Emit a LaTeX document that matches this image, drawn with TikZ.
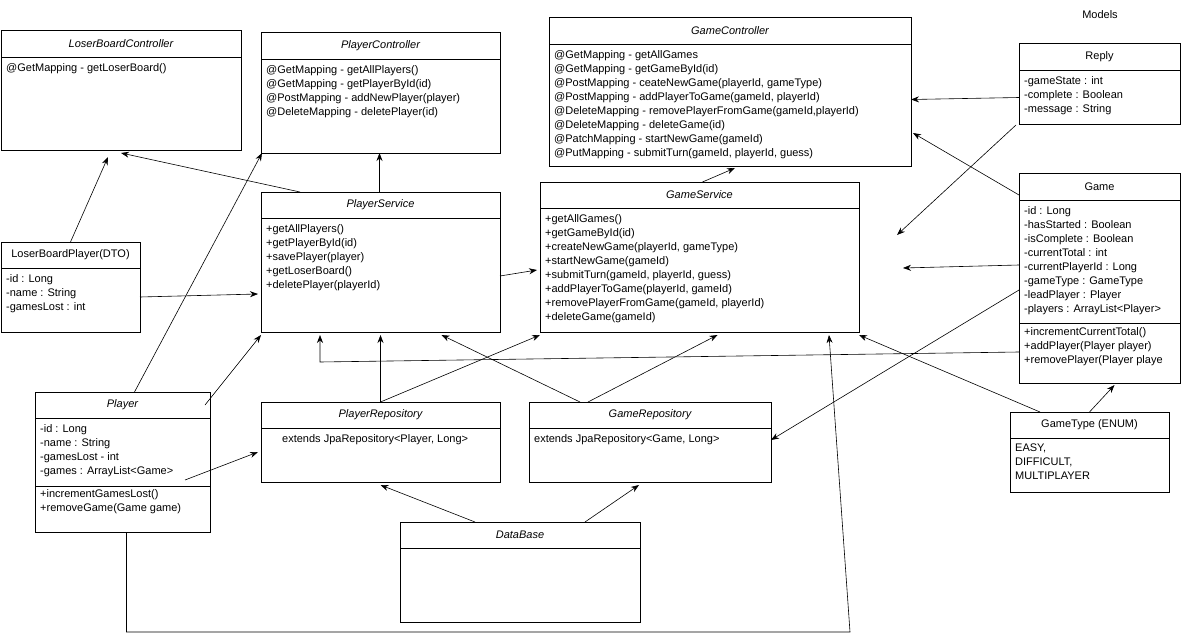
\documentclass[tikz,border=0pt]{standalone}
\usepackage{fontspec}
\setmainfont{Liberation Sans}
\usetikzlibrary{arrows.meta,
                calc}
\tikzset{
        box/.style={draw, rectangle, anchor=north west, inner sep=0pt, outer sep=0pt, line width=0.8pt},
        body/.style={anchor=north west, align=left, inner sep=0pt, font=\fontsize{11}{14}\selectfont},
        myarrow/.style={-{Stealth[length=8pt, width=6pt]}, line width=0.6pt},
}
% name, x, y, width, height, header height, title font, title, body
\newcommand{\umlclass}[9]{%
    \node[box, minimum width=#4pt, minimum height=#5pt] (#1) at (#2,#3) {};
    \node[font=\fontsize{11}{14}\selectfont#7] at ($(#1.north)+(0,#6/2)$) {#8};
    \draw[line width=0.8pt] ($(#1.north west)+(0,#6)$) -- ($(#1.north east)+(0,#6)$);
    \node[body] at ($(#1.north west)+(5,#6+6)$) {#9};
}

\begin{document}
\begin{tikzpicture}[x=1pt, y=-1pt]
    \useasboundingbox (0,0) rectangle (1181,642);

    \umlclass{lbc}{1}{30}{240}{120}{27}{\itshape}{LoserBoardController}
        {@GetMapping - getLoserBoard()}
    \umlclass{pc}{261}{32}{239}{121}{27}{\itshape}{PlayerController}
        {@GetMapping - getAllPlayers()\\@GetMapping - getPlayerById(id)\\
         @PostMapping - addNewPlayer(player)\\@DeleteMapping - deletePlayer(id)}
    \umlclass{gc}{549}{17}{362}{149}{27}{\itshape}{GameController}
        {@GetMapping - getAllGames\\@GetMapping - getGameById(id)\\
         @PostMapping - ceateNewGame(playerId, gameType)\\
         @PostMapping - addPlayerToGame(gameId, playerId)\\
         @DeleteMapping - removePlayerFromGame(gameId,playerId)\\
         @DeleteMapping - deleteGame(id)\\@PatchMapping - startNewGame(gameId)\\
         @PutMapping - submitTurn(gameId, playerId, guess)}
    \node[font=\fontsize{11}{14}\selectfont] (models) at (1100,15) {Models};
    \umlclass{reply}{1019}{43}{161}{81}{27}{}{Reply}
        {-gameState : int\\-complete : Boolean\\-message : String}
    \umlclass{game}{1019}{173}{161}{210}{27}{}{Game}
        {-id : Long\\-hasStarted : Boolean\\-isComplete : Boolean\\-currentTotal : int\\
         -currentPlayerId : Long\\-gameType : GameType\\-leadPlayer : Player\\
         -players : ArrayList<Player>\\[9pt]+incrementCurrentTotal()\\
         +addPlayer(Player player)\\+removePlayer(Player playe}
    \draw[line width=0.8pt] ($(game.north west)+(0,150)$) -- ($(game.north east)+(0,150)$);
    \umlclass{gt}{1010}{412}{159}{80}{26}{}{GameType (ENUM)}
        {EASY,\\DIFFICULT,\\MULTIPLAYER}
    \umlclass{lbp}{1}{242}{139}{90}{26}{}{LoserBoardPlayer(DTO)}
        {-id : Long\\-name : String\\-gamesLost : int}
    \umlclass{ps}{261}{192}{239}{140}{26}{\itshape}{PlayerService}
        {+getAllPlayers()\\+getPlayerById(id)\\+savePlayer(player)\\
         +getLoserBoard()\\+deletePlayer(playerId)}
    \umlclass{gs}{540}{182}{319}{150}{26}{\itshape}{GameService}
        {+getAllGames()\\+getGameById(id)\\+createNewGame(playerId, gameType)\\
         +startNewGame(gameId)\\+submitTurn(gameId, playerId, guess)\\
         +addPlayerToGame(playerId, gameId)\\+removePlayerFromGame(gameId, playerId)\\
         +deleteGame(gameId)}
    \umlclass{player}{35}{392}{175}{140}{26}{\itshape}{Player}
        {-id : Long\\-name : String\\-gamesLost - int\\-games : ArrayList<Game>\\[9pt]
         +incrementGamesLost()\\+removeGame(Game game)}
    \draw[line width=0.8pt] ($(player.north west)+(0,94)$) -- ($(player.north east)+(0,94)$);
    \umlclass{pr}{261}{402}{239}{80}{26}{\itshape}{PlayerRepository}
        {\hspace{16pt}extends JpaRepository<Player, Long>}
    \umlclass{gr}{529}{402}{242}{80}{26}{\itshape}{GameRepository}
        {extends JpaRepository<Game, Long>}
    \umlclass{db}{400}{522}{240}{100}{26}{\itshape}{DataBase}{}

    \coordinate (c1) at (850,632);
    \coordinate (c2) at (320,362);

    \draw[myarrow] (lbp.north) -- ($(lbc.south)+(-13,7)$);
    \draw[myarrow] ($(ps.north west)+(39,0)$) -- ($(lbc.south)+(0,3)$);
    \draw[myarrow] ($(ps.north)+(-1,0)$) -- ($(pc.south)+(-1,0)$);
    \draw[myarrow] ($(player.north)+(12,0)$) -- ($(pc.south west)+(1,0)$);
    \draw[myarrow] ($(lbp.east)+(0,10)$) -- ($(ps.west)+(-3,32)$);
    \draw[myarrow] ($(player.north east)+(-5,13)$) -- ($(ps.south west)+(0,3)$);
    \draw[myarrow] ($(player.north east)+(-25,88)$) -- ($(pr.north west)+(-3,50)$);
    \draw[myarrow] ($(ps.east)+(0,14)$) -- ($(gs.west)+(-3,13)$);
    \draw[myarrow] ($(gs.north)+(3,0)$) -- ($(gc.south)+(5,2)$);
    \draw[myarrow] ($(reply.west)+(0,14)$) -- ($(gc.east)+(0,8)$);
    \draw[myarrow] ($(game.north west)+(0,22)$) -- ($(gc.south east)+(2,-33)$);
    \draw[myarrow] ($(reply.south west)+(-3,1)$) -- ($(gs.north east)+(38,53)$);
    \draw[myarrow] ($(game.west)+(0,-13)$) -- ($(gs.east)+(44,11)$);
    \draw[myarrow] ($(game.west)+(0,12)$) -- ($(gr.east)+(0,-2)$);
    \draw[myarrow] ($(game.west)+(0,74)$) -- (c2) -- ($(ps.south west)+(59,3)$);
    \draw[myarrow] ($(gt.north west)+(30,0)$) -- ($(gs.south east)+(0,3)$);
    \draw[myarrow] ($(gt.north)+(0,0)$) -- ($(game.south)+(15,2)$);
    \draw[myarrow] ($(pr.north)+(0,0)$) -- ($(ps.south)+(0,3)$);
    \draw[myarrow] ($(pr.north)+(0,0)$) -- ($(gs.south west)+(0,3)$);
    \draw[myarrow] ($(gr.north west)+(51,0)$) -- ($(ps.south)+(61,3)$);
    \draw[myarrow] ($(gr.north west)+(59,0)$) -- ($(gs.south)+(18,3)$);
    \draw[myarrow] ($(db.north west)+(75,0)$) -- ($(pr.south)+(0,3)$);
    \draw[myarrow] ($(db.north west)+(185,0)$) -- ($(gr.south)+(-11,3)$);
    \draw[myarrow] ($(player.south)+(4,0)$) |- (c1) -- ($(gs.south east)+(-30,3)$);
\end{tikzpicture}
\end{document}
